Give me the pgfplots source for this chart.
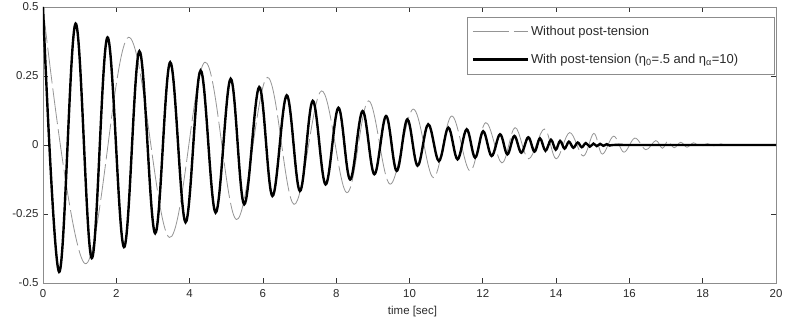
\documentclass[border=0pt]{standalone}
\usepackage{pgfplots}
\usepackage{pgfplotstable}
\usepackage{fontspec}
\setmainfont{Liberation Sans}
\pgfplotsset{compat=1.18}

\pgfplotstableread{
t v
0.00 0.500
1.15 -0.430
2.33 0.390
3.45 -0.335
4.42 0.300
5.28 -0.270
6.12 0.245
6.85 -0.215
7.60 0.196
8.29 -0.173
8.88 0.160
9.47 -0.142
10.10 0.130
10.65 -0.118
11.15 0.105
11.65 -0.094
12.08 0.081
12.52 -0.065
12.88 0.063
13.25 -0.050
13.68 0.058
14.00 -0.050
14.37 0.045
14.74 -0.040
15.03 0.042
15.26 -0.033
15.57 0.032
15.85 -0.026
16.15 0.025
16.45 -0.017
16.72 0.016
16.90 -0.012
17.05 0.014
17.22 -0.010
17.40 0.010
17.57 -0.008
17.75 0.008
17.93 -0.006
18.13 0.005
18.30 -0.003
18.50 0.004
18.65 -0.002
18.85 0.002
19.00 0.000
}\without

\pgfplotstableread{
t v
0.00 0.500
0.44 -0.460
0.89 0.440
1.33 -0.410
1.76 0.390
2.21 -0.370
2.63 0.340
3.06 -0.320
3.47 0.300
3.89 -0.280
4.30 0.270
4.71 -0.245
5.12 0.240
5.49 -0.215
5.90 0.210
6.26 -0.185
6.65 0.180
7.01 -0.167
7.36 0.160
7.71 -0.143
8.06 0.135
8.38 -0.125
8.72 0.123
9.04 -0.106
9.36 0.105
9.65 -0.094
9.94 0.093
10.22 -0.075
10.51 0.075
10.80 -0.058
11.06 0.063
11.31 -0.052
11.56 0.057
11.79 -0.046
12.01 0.050
12.24 -0.040
12.47 0.039
12.67 -0.034
12.86 0.033
13.05 -0.028
13.24 0.028
13.41 -0.024
13.56 0.024
13.71 -0.021
13.86 0.019
13.99 -0.017
14.11 0.015
14.23 -0.013
14.35 0.012
14.47 -0.010
14.59 0.009
14.70 -0.008
14.81 0.007
14.92 -0.006
15.02 0.005
15.11 -0.004
15.20 0.004
15.29 -0.003
15.38 0.003
15.46 -0.002
15.55 0.000
16.00 0.000
20.00 0.000
}\withpt

\definecolor{axgray}{HTML}{8C8C8C}
\definecolor{txtgray}{HTML}{2A2A2A}
\definecolor{curvegray}{HTML}{959595}

\begin{document}
\begin{tikzpicture}
\begin{axis}[
  at={(0,0)}, anchor=south west,
  scale only axis,
  width=733bp, height=276bp,
  xmin=0, xmax=20, ymin=-0.5, ymax=0.5,
  xtick={0,2,...,20},
  xticklabels={0,2,4,6,8,10,12,14,16,18,20},
  ytick={-0.5,-0.25,0,0.25,0.5},
  yticklabels={-0.5,-0.25,0,0.25,0.5},
  tick align=inside,
  major tick length=5bp,
  axis line style={axgray, line width=0.9bp},
  tick style={black!80, line width=0.8bp},
  ticklabel style={font=\fontsize{11.5}{13}\selectfont, text=txtgray},
  xticklabel style={yshift=-3bp},
  yticklabel style={xshift=-1bp},
  xlabel={time [sec]},
  xlabel style={font=\fontsize{11.5}{13}\selectfont, text=txtgray, yshift=-2bp, xshift=3bp},
  legend cell align=left,
  legend style={at={(1,1)}, anchor=north east, xshift=-1.5bp, yshift=-10bp,
    draw=axgray, line width=0.8bp, font=\fontsize{13}{15}\selectfont, text=txtgray,
    inner xsep=4bp, inner ysep=7bp, row sep=13bp},
  legend image code/.code={\draw[#1] (0bp,0bp) -- (55bp,0bp);},
]
\addplot[curvegray, line width=0.8bp, dash pattern=on 36bp off 5bp, smooth, tension=0.6] table[x=t,y=v] {\without};
\addlegendentry{Without post-tension}
\addplot[black, line width=2.4bp, smooth, tension=0.6] table[x=t,y=v] {\withpt};
\addlegendentry{With post-tension (η\textsubscript{0}=.5 and η\textsubscript{α}=10)\rule{30bp}{0pt}}
\end{axis}
\pgfresetboundingbox
\path (-43bp,-39bp) rectangle (746bp,283bp);
\end{tikzpicture}
\end{document}
